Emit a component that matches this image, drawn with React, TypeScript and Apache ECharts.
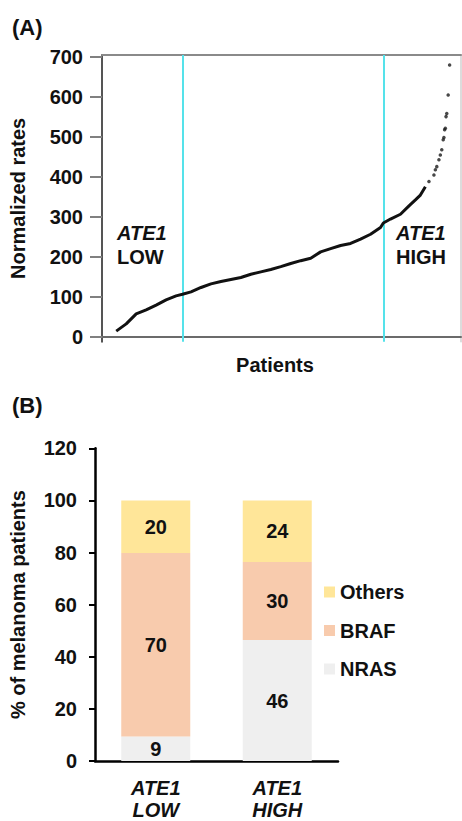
import React, { useEffect, useRef } from "react";
import * as echarts from "echarts";

// Panel A: normalized ATE1 rates, patients sorted by rate (rank, value)
const bodyRanks = [1, 15, 29, 43, 57, 71, 85, 94, 106, 120, 134, 148, 162, 176, 190, 204, 218, 232, 246, 260, 274, 288, 302, 316, 330, 344, 358, 372, 376, 386, 400, 412, 421, 428, 435];
const bodyRates = [14, 32, 57, 67, 79, 92, 102, 106, 112, 123, 132, 138, 143, 148, 156, 162, 168, 175, 183, 190, 196, 212, 220, 228, 233, 244, 256, 273, 284, 294, 306, 327, 342, 354, 375];
const tailRanks = [440, 447, 449, 451, 454, 456, 458, 460, 461, 462, 463, 464, 465, 467, 469];
const tailRates = [388, 404, 417, 425, 442, 454, 467, 492, 498, 517, 521, 550, 558, 604, 679];
const cutoffRanks = [94, 376];
const rateTicks = [0, 100, 200, 300, 400, 500, 600, 700];

// Panel B: % of melanoma patients by mutation
const groups = ["ATE1\nLOW", "ATE1\nHIGH"];
const nras = [9.4, 46.4];
const braf = [70.4, 30];
const others = [20.2, 23.6];

const FONT = "Liberation Sans, Arial, Helvetica, sans-serif";

export default function App() {
  const ref = useRef<HTMLDivElement>(null);
  useEffect(() => {
    if (!ref.current) return;
    const chart = echarts.init(ref.current, null, { renderer: "svg" });
    const bold = { fontFamily: FONT, fontWeight: "bold" as const, color: "#111" };
    const barLabel = {
      show: true,
      position: "inside" as const,
      ...bold,
      fontSize: 20,
      formatter: (p: any) => String(Math.round(p.value)),
    };
    chart.setOption({
      animation: false,
      backgroundColor: "#fff",
      grid: [
        { left: 101, right: 1, top: 55, bottom: 479.3 },
        { left: 94, right: 124, top: 448.3, bottom: 56.7 },
      ],
      xAxis: [
        {
          type: "value",
          gridIndex: 0,
          min: -19,
          max: 485,
          axisLine: { show: true, lineStyle: { color: "#6b6b6b", width: 2 } },
          axisTick: { show: false },
          axisLabel: { show: false },
          splitLine: { show: false },
        },
        {
          type: "category",
          gridIndex: 1,
          data: groups,
          axisLine: { show: true, lineStyle: { color: "#000", width: 2.5 } },
          axisTick: { show: false },
          axisLabel: {
            ...bold,
            fontStyle: "italic",
            fontSize: 20,
            lineHeight: 22,
            margin: 16,
          },
        },
        {
          type: "value",
          gridIndex: 0,
          position: "top",
          min: -19,
          max: 485,
          axisLine: { show: true, onZero: false, lineStyle: { color: "#8a8a8a", width: 2 } },
          axisTick: { show: false },
          axisLabel: { show: false },
          splitLine: { show: false },
        },
      ],
      yAxis: [
        {
          type: "value",
          gridIndex: 0,
          min: -12.5,
          max: 704,
          name: "Normalized rates",
          nameLocation: "middle",
          nameGap: 74,
          nameTextStyle: { ...bold, fontSize: 20 },
          axisLine: { show: true, onZero: false, lineStyle: { color: "#555", width: 2 } },
          axisTick: { show: true, length: 12, customValues: rateTicks, lineStyle: { color: "#808080", width: 2 } },
          axisLabel: { ...bold, fontSize: 20, margin: 19, customValues: rateTicks },
          splitLine: { show: false },
        },
        {
          type: "value",
          gridIndex: 1,
          min: 0,
          max: 120,
          interval: 20,
          name: "% of melanoma patients",
          nameLocation: "middle",
          nameGap: 67,
          nameTextStyle: { ...bold, fontSize: 20 },
          axisLine: { show: true, lineStyle: { color: "#000", width: 2.5 } },
          axisTick: { show: true, length: 6, lineStyle: { color: "#000", width: 2 } },
          axisLabel: { ...bold, fontSize: 20, margin: 18 },
          splitLine: { show: false },
        },
        {
          type: "value",
          gridIndex: 0,
          position: "right",
          min: -12.5,
          max: 704,
          axisLine: { show: true, onZero: false, lineStyle: { color: "#d0d0d0", width: 1.5 } },
          axisTick: { show: false },
          axisLabel: { show: false },
          splitLine: { show: false },
        },
      ],
      legend: {
        data: ["Others", "BRAF", "NRAS"],
        orient: "vertical",
        left: 324,
        top: 582,
        padding: 0,
        icon: "rect",
        itemWidth: 11,
        itemHeight: 11,
        itemGap: 18.5,
        textStyle: { ...bold, fontSize: 20, lineHeight: 20 },
      },
      series: [
        {
          type: "line",
          name: "ATE1 rate",
          xAxisIndex: 0,
          yAxisIndex: 0,
          data: bodyRanks.map((r, i) => [r, bodyRates[i]]),
          showSymbol: false,
          lineStyle: { color: "#111", width: 3 },
          itemStyle: { color: "#111" },
          z: 5,
          markLine: {
            silent: true,
            symbol: "none",
            label: { show: false },
            lineStyle: { color: "#55e2ea", width: 2, type: "solid" },
            data: cutoffRanks.map((r) => ({ xAxis: r })),
          },
        },
        {
          type: "scatter",
          name: "ATE1 rate tail",
          xAxisIndex: 0,
          yAxisIndex: 0,
          data: tailRanks.map((r, i) => [r, tailRates[i]]),
          symbolSize: 3.5,
          itemStyle: { color: "#1a1a1a" },
          z: 5,
        },
        {
          type: "bar",
          name: "NRAS",
          stack: "b",
          xAxisIndex: 1,
          yAxisIndex: 1,
          data: nras,
          barWidth: 69,
          itemStyle: { color: "#efefef" },
          label: barLabel,
        },
        {
          type: "bar",
          name: "BRAF",
          stack: "b",
          xAxisIndex: 1,
          yAxisIndex: 1,
          data: braf,
          barWidth: 69,
          itemStyle: { color: "#f8cbad" },
          label: barLabel,
        },
        {
          type: "bar",
          name: "Others",
          stack: "b",
          xAxisIndex: 1,
          yAxisIndex: 1,
          data: others,
          barWidth: 69,
          itemStyle: { color: "#ffe699" },
          label: barLabel,
        },
      ],
      graphic: [
        { type: "text", x: 12, y: 27, style: { text: "(A)", fill: "#111", font: `bold 22px ${FONT}`, align: "left", verticalAlign: "middle" } },
        { type: "text", x: 12, y: 405, style: { text: "(B)", fill: "#111", font: `bold 22px ${FONT}`, align: "left", verticalAlign: "middle" } },
        { type: "text", x: 117, y: 233, style: { text: "ATE1", fill: "#111", font: `italic bold 20px ${FONT}`, align: "left", verticalAlign: "middle" } },
        { type: "text", x: 117, y: 257, style: { text: "LOW", fill: "#111", font: `bold 20px ${FONT}`, align: "left", verticalAlign: "middle" } },
        { type: "text", x: 396, y: 233, style: { text: "ATE1", fill: "#111", font: `italic bold 20px ${FONT}`, align: "left", verticalAlign: "middle" } },
        { type: "text", x: 396, y: 257, style: { text: "HIGH", fill: "#111", font: `bold 20px ${FONT}`, align: "left", verticalAlign: "middle" } },
        { type: "text", x: 275, y: 365, style: { text: "Patients", fill: "#111", font: `bold 20px ${FONT}`, align: "center", verticalAlign: "middle" } },
      ],
    });
    return () => chart.dispose();
  }, []);
  return <div ref={ref} style={{ position: "fixed", left: 0, top: 0, width: 462, height: 821 }} />;
}
